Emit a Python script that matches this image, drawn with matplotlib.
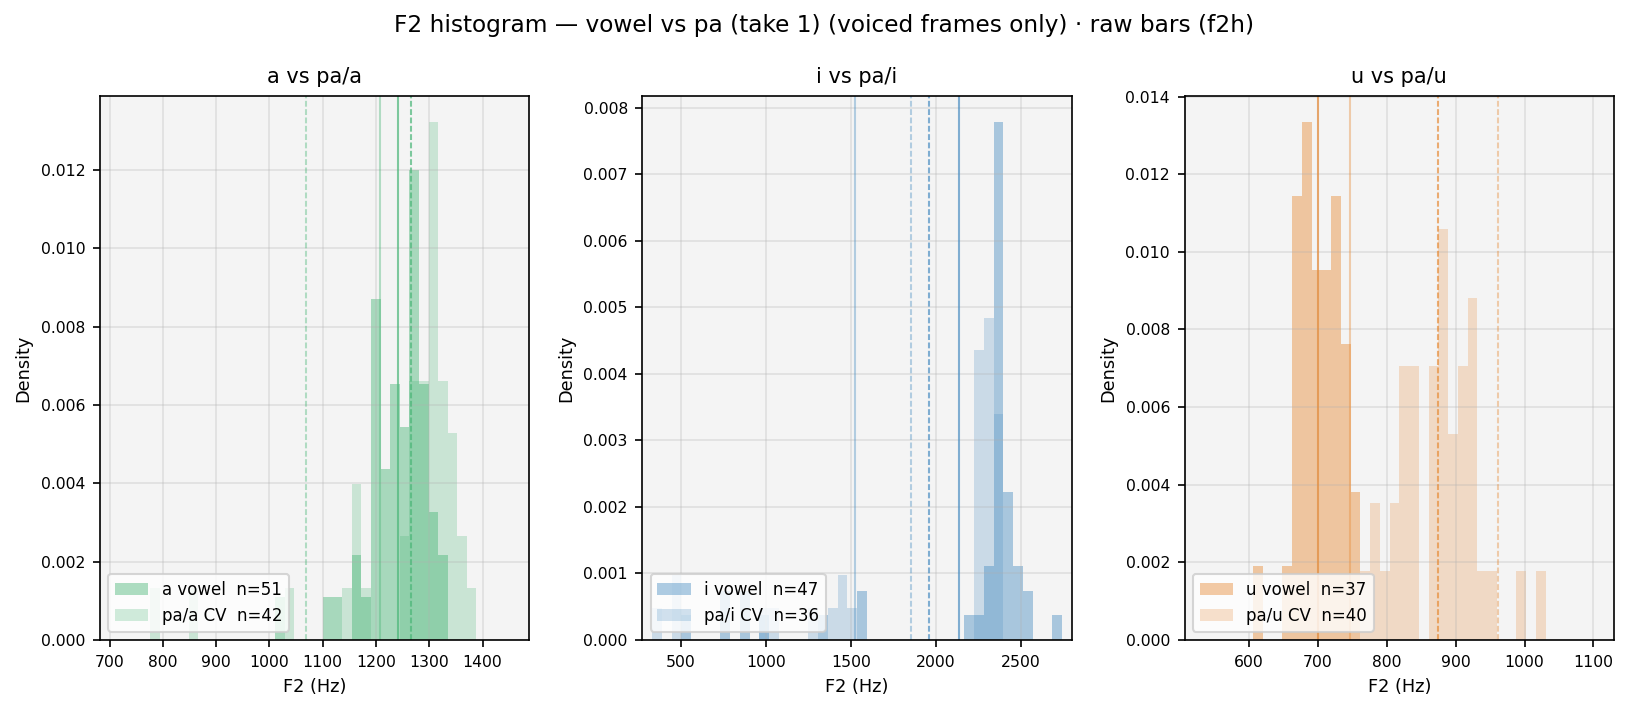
import numpy as np
import matplotlib
matplotlib.use("Agg")
import matplotlib.pyplot as plt

# bin ranges (Hz) and bin counts per panel
A_RANGE = (686.6, 1514.6)
B_RANGE = (275.0, 2798.4)
C_RANGE = (506.6, 1130.0)
A_NBINS = 46
B_NBINS = 44
C_NBINS = 44

# visible x range per panel
A_XLIM = (682, 1488)
B_XLIM = (275, 2798)
C_XLIM = (506.6, 1130)

# counts per bin
A_VOWEL = [0, 0, 0, 0, 0, 0, 0, 0, 0, 0,
           0, 0, 0, 0, 0, 0, 0, 0, 1, 0,
           0, 0, 0, 1, 1, 0, 2, 1, 8, 4,
           6, 5, 11, 6, 3, 2, 0, 0, 0, 0,
           0, 0, 0, 0, 0, 0]
A_CV = [0, 0, 0, 0, 0, 1, 0, 0, 0, 1,
        0, 0, 0, 0, 0, 0, 0, 0, 0, 1,
        0, 0, 0, 0, 0, 1, 3, 1, 0, 0,
        0, 2, 5, 5, 10, 5, 4, 2, 1, 0,
        0, 0, 0, 0, 0, 0]

B_VOWEL = [0, 0, 0, 0, 1, 0, 0, 0, 2, 0,
           2, 0, 1, 0, 0, 0, 0, 0, 1, 0,
           0, 0, 2, 0, 0, 0, 0, 0, 0, 0,
           0, 0, 0, 1, 1, 3, 21, 6, 3, 2,
           0, 0, 1, 0]
B_CV = [0, 1, 0, 2, 0, 0, 0, 0, 0, 0,
        0, 0, 1, 1, 0, 0, 0, 1, 0, 1,
        2, 1, 0, 0, 0, 0, 0, 0, 0, 0,
        0, 0, 0, 0, 9, 10, 7, 0, 0, 0,
        0, 0, 0, 0]

C_VOWEL = [0, 0, 0, 0, 0, 0, 0, 1, 0, 0,
           1, 6, 7, 5, 5, 6, 4, 2, 0, 0,
           0, 0, 0, 0, 0, 0, 0, 0, 0, 0,
           0, 0, 0, 0, 0, 0, 0, 0, 0, 0,
           0, 0, 0, 0]
C_CV = [0, 0, 0, 0, 0, 0, 0, 0, 0, 0,
        0, 0, 0, 0, 0, 0, 0, 0, 1, 2,
        1, 2, 4, 4, 0, 4, 6, 3, 4, 5,
        1, 1, 0, 0, 1, 0, 1, 0, 0, 0,
        0, 0, 0, 0]

# vertical markers (Hz): vowel mean, vowel ref, CV mean, CV ref
A_MARKS = [1242, 1207, 1265, 1068]
B_MARKS = [2133, 1522, 1957, 1851]
C_MARKS = [700, 746, 875, 962]

VOWELS = ["a", "i", "u"]
N_VOWEL = [51, 47, 37]
N_CV = [42, 36, 40]
COLORS = ["#4bb678", "#4d90c3", "#e78c39"]


def panel(ax, vowel, rng, nbins, xlim, v_counts, cv_counts, marks,
          n_v, n_cv, color):
    edges = np.linspace(rng[0], rng[1], nbins + 1)
    centers = (edges[:-1] + edges[1:]) / 2
    v_data = np.repeat(centers, v_counts)
    cv_data = np.repeat(centers, cv_counts)

    ax.set_facecolor("#f4f4f4")
    ax.hist(v_data, bins=edges, density=True, color=color, alpha=0.45,
            label=f"{vowel} vowel  n={n_v}")
    ax.hist(cv_data, bins=edges, density=True, color=color, alpha=0.25,
            label=f"pa/{vowel} CV  n={n_cv}")

    dash = (0, (2.8, 1.2))
    ax.axvline(marks[0], color=color, lw=1.0, alpha=0.7)
    ax.axvline(marks[1], color=color, lw=1.0, alpha=0.4)
    ax.axvline(marks[2], color=color, lw=1.0, alpha=0.7, ls=dash)
    ax.axvline(marks[3], color=color, lw=1.0, alpha=0.4, ls=dash)

    ax.set_xlim(xlim)
    ax.grid(True, alpha=0.3)
    ax.set_title(f"{vowel} vs pa/{vowel}", fontsize=10)
    ax.set_xlabel("F2 (Hz)", fontsize=8.5)
    ax.set_ylabel("Density", fontsize=8.5)
    ax.tick_params(labelsize=7.5)
    ax.legend(loc="lower left", fontsize=8)


fig, axes = plt.subplots(1, 3, figsize=(10.88, 4.7667), dpi=150)
fig.subplots_adjust(left=0.0613, right=0.989, bottom=0.105, top=0.866,
                    wspace=0.263)

panel(axes[0], VOWELS[0], A_RANGE, A_NBINS, A_XLIM, A_VOWEL, A_CV, A_MARKS,
      N_VOWEL[0], N_CV[0], COLORS[0])
panel(axes[1], VOWELS[1], B_RANGE, B_NBINS, B_XLIM, B_VOWEL, B_CV, B_MARKS,
      N_VOWEL[1], N_CV[1], COLORS[1])
panel(axes[2], VOWELS[2], C_RANGE, C_NBINS, C_XLIM, C_VOWEL, C_CV, C_MARKS,
      N_VOWEL[2], N_CV[2], COLORS[2])

fig.suptitle("F2 histogram \u2014 vowel vs pa (take 1) (voiced frames only) "
             "\u00b7 raw bars (f2h)", fontsize=11.2, x=0.505, y=0.98)

fig.savefig("out.png", dpi=150)
